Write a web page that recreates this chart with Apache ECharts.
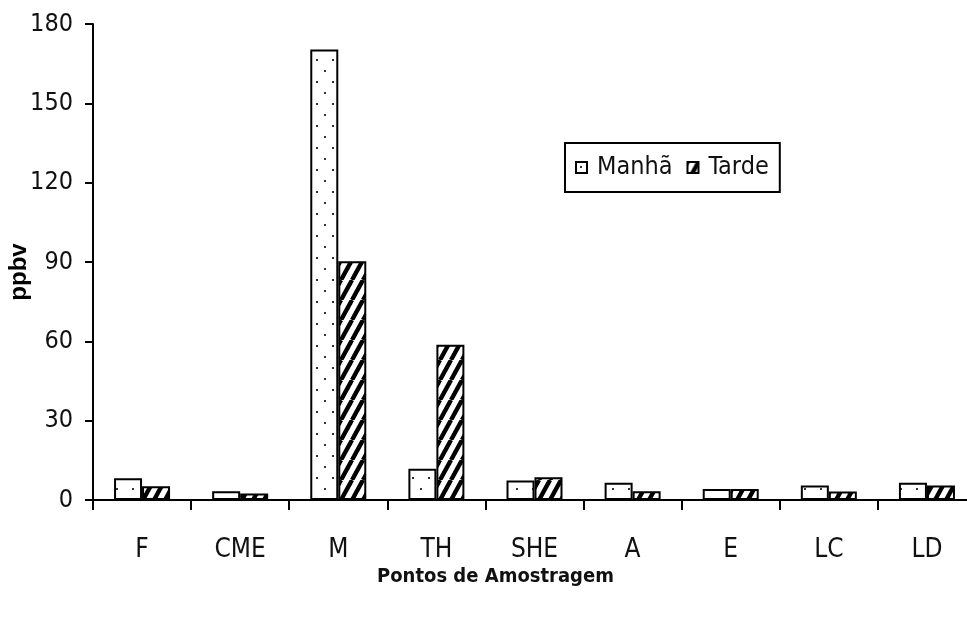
<!DOCTYPE html>
<html>
<head>
<meta charset="utf-8">
<script src="https://cdn.jsdelivr.net/npm/echarts@6/dist/echarts.min.js"></script>
<style>
html,body{margin:0;padding:0;background:#fff;}
#chart{width:967px;height:622px;}
</style>
</head>
<body>
<div id="chart"></div>
<script>
const categories = ['F', 'CME', 'M', 'TH', 'SHE', 'A', 'E', 'LC', 'LD'];
const manha = [8.2, 3.3, 170.4, 11.8, 7.4, 6.5, 4.2, 5.5, 6.5];
const tarde = [5.2, 2.5, 90.3, 58.7, 8.6, 3.3, 4.2, 3.2, 5.5];
const seriesNames = ['Manhã', 'Tarde'];
const yMin = 0, yMax = 180, yStep = 30;

const NARROW = '"DejaVu Sans Condensed", "Liberation Sans Narrow", sans-serif';

function dotPattern() {
  const c = document.createElement('canvas');
  c.width = 16; c.height = 22;
  const g = c.getContext('2d');
  g.fillStyle = '#fff'; g.fillRect(0, 0, 16, 22);
  g.fillStyle = '#333';
  g.fillRect(4, 4, 2, 2);
  g.fillRect(12, 15, 2, 2);
  return c;
}
function hatchPattern() {
  const w = 11, h = 20;
  const c = document.createElement('canvas');
  c.width = w; c.height = h;
  const g = c.getContext('2d');
  g.fillStyle = '#fff'; g.fillRect(0, 0, w, h);
  g.strokeStyle = '#000'; g.lineWidth = 4.4;
  for (let k = -1; k <= 1; k++) {
    g.beginPath();
    g.moveTo(k * w, h);
    g.lineTo(k * w + w, 0);
    g.stroke();
  }
  return c;
}

const chart = echarts.init(document.getElementById('chart'));
chart.setOption({
  animation: false,
  backgroundColor: '#fff',
  grid: { left: 93, right: -9, top: 24, bottom: 122, outerBoundsMode: 'none', containLabel: false },
  legend: {
    data: seriesNames,
    left: 565, top: 143,
    padding: [12, 11, 12, 10],
    borderColor: '#000', borderWidth: 2,
    itemWidth: 11, itemHeight: 11, itemGap: 14,
    icon: 'rect',
    textStyle: { fontFamily: NARROW, fontSize: 25, color: '#111', padding: [0, 0, 0, 5] }
  },
  xAxis: {
    type: 'category',
    data: categories,
    name: 'Pontos de Amostragem',
    nameLocation: 'middle',
    nameGap: 67,
    nameMoveOverlap: false,
    nameTextStyle: { fontFamily: NARROW, fontSize: 20, fontWeight: 'bold', color: '#111', padding: [0, 78, 0, 0] },
    axisLine: { lineStyle: { color: '#000', width: 2 } },
    axisTick: { show: true, length: 10, lineStyle: { color: '#000', width: 2 } },
    axisLabel: { margin: 37, fontFamily: NARROW, fontSize: 26, color: '#111' },
    splitLine: { show: false }
  },
  yAxis: {
    type: 'value',
    min: yMin, max: yMax, interval: yStep,
    name: 'ppbv',
    nameLocation: 'middle',
    nameRotate: 90,
    nameGap: 62,
    nameMoveOverlap: false,
    nameTextStyle: { fontFamily: '"Liberation Sans", Arial, sans-serif', fontSize: 24, fontWeight: 'bold', color: '#000', padding: [0, 20, 0, 0] },
    axisLine: { show: true, lineStyle: { color: '#000', width: 2 } },
    axisTick: { show: true, length: 8, lineStyle: { color: '#000', width: 2 } },
    axisLabel: { margin: 20, fontFamily: NARROW, fontSize: 25, color: '#111' },
    splitLine: { show: false }
  },
  series: [
    {
      name: seriesNames[0], type: 'bar', data: manha,
      barWidth: 28, barGap: '0%',
      itemStyle: { color: { image: dotPattern(), repeat: 'repeat' }, borderColor: '#000', borderWidth: 2 }
    },
    {
      name: seriesNames[1], type: 'bar', data: tarde,
      barWidth: 28, barGap: '0%',
      itemStyle: { color: { image: hatchPattern(), repeat: 'repeat' }, borderColor: '#000', borderWidth: 2 }
    }
  ]
});
</script>
</body>
</html>
